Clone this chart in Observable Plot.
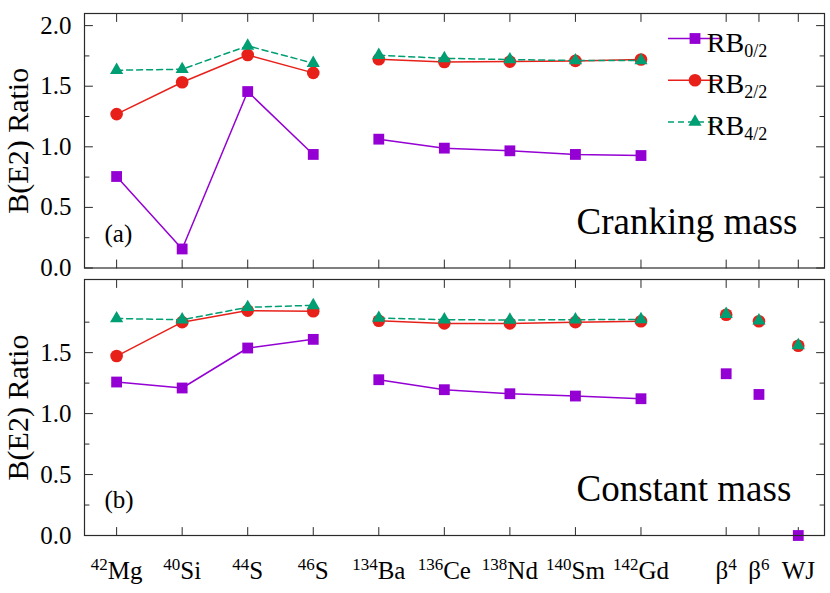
<!DOCTYPE html>
<html>
<head>
<meta charset="utf-8">
<script src="https://cdn.jsdelivr.net/npm/d3@7"></script>
<script src="https://cdn.jsdelivr.net/npm/@observablehq/plot@0.6"></script>
<style>
  html, body { margin: 0; padding: 0; background: #fff; }
  #wrap { position: relative; width: 830px; height: 593px; background: #fff; }
  #wrap svg { position: absolute; left: 0; overflow: visible; }
  #wrap svg, #wrap svg text, #wrap svg tspan { font-family: "Liberation Serif", "Times New Roman", Times, "DejaVu Serif", serif !important; }
</style>
</head>
<body>
<div id="wrap"></div>
<script>
// ---------- data ----------
const massNumber = ["42", "40", "44", "46", "134", "136", "138", "140", "142", "", "", ""];
const element    = ["Mg", "Si", "S", "S", "Ba", "Ce", "Nd", "Sm", "Gd", "β", "β", "WJ"];
const power      = ["", "", "", "", "", "", "", "", "", "4", "6", ""];
const xPosition  = [0, 1, 2, 3, 4, 5, 6, 7, 8, 9.3, 9.8, 10.4];
const group      = ["light", "light", "light", "light", "heavy", "heavy", "heavy", "heavy", "heavy", "ref", "ref", "ref"];

const seriesNames = ["RB", "RB", "RB"];
const seriesSubs  = ["0/2", "2/2", "4/2"];

// (a) Cranking mass
const rb02Cranking = [0.755, 0.157, 1.456, 0.937, 1.063, 0.989, 0.967, 0.937, 0.928];
const rb22Cranking = [1.270, 1.533, 1.758, 1.610, 1.723, 1.700, 1.703, 1.709, 1.720];
const rb42Cranking = [1.632, 1.640, 1.833, 1.690, 1.756, 1.730, 1.720, 1.712, 1.712];

// (b) Constant mass
const rb02Constant = [1.259, 1.210, 1.538, 1.609, 1.278, 1.196, 1.163, 1.144, 1.122, 1.327, 1.157, 0.000];
const rb22Constant = [1.472, 1.750, 1.845, 1.840, 1.762, 1.740, 1.740, 1.750, 1.757, 1.811, 1.757, 1.557];
const rb42Constant = [1.780, 1.770, 1.872, 1.888, 1.784, 1.770, 1.768, 1.770, 1.773, 1.815, 1.762, 1.560];

const majorTicksA = [0, 0.5, 1.0, 1.5, 2.0];
const majorTicksB = [0, 0.5, 1.0, 1.5];
const minorTicks  = [0.25, 0.75, 1.25, 1.75];

// ---------- styles ----------
const colors  = ["#9400d3", "#e8201a", "#009e73"];
const symbols = ["square", "circle", "triangle"];
const radii   = [6.1, 6.3, 4.9];
const dashes  = [null, null, "6,4"];
const FONT = '"Liberation Serif", "Times New Roman", Times, "DejaVu Serif", serif';
const frameColor = "#2a2a2a";

const tickShape = { draw(ctx, l) { ctx.moveTo(0, 0); ctx.lineTo(0, -l); } };

function rowsFor(values) {
  return values.map((v, i) => ({ x: xPosition[i], y: v, group: group[i] }));
}

function panel({ series, majors, height, marginTop, marginBottom, tag, note, noteDy, tagDy, xLabels }) {
  const marks = [];
  const tk = (data, opts) => Plot.vector(data, { length: 8, anchor: "start", shape: tickShape, stroke: frameColor, strokeWidth: 1, ...opts });
  const tkMinor = (data, opts) => Plot.vector(data, { length: 4.5, anchor: "start", shape: tickShape, stroke: frameColor, strokeWidth: 1, ...opts });
  marks.push(tk(majors, { y: d => d, frameAnchor: "left", rotate: 90 }));
  marks.push(tk(majors, { y: d => d, frameAnchor: "right", rotate: -90 }));
  marks.push(tkMinor(minorTicks, { y: d => d, frameAnchor: "left", rotate: 90 }));
  marks.push(tkMinor(minorTicks, { y: d => d, frameAnchor: "right", rotate: -90 }));
  marks.push(tk(xPosition, { x: d => d, frameAnchor: "top", rotate: 180 }));
  marks.push(tk(xPosition, { x: d => d, frameAnchor: "bottom", rotate: 0 }));
  marks.push(Plot.axisY({ ticks: majors, tickSize: 0, tickPadding: 13, tickFormat: d3.format(".1f"), fontSize: 25, label: null, fill: "#000" }));
  marks.push(Plot.text(["B(E2) Ratio"], { text: d => d, frameAnchor: "left", dx: -66, rotate: -90, fontSize: 30, lineAnchor: "middle", textAnchor: "middle", fill: "#000" }));
  series.forEach((vals, k) => {
    const rows = rowsFor(vals);
    marks.push(Plot.line(rows.filter(r => r.group !== "ref"), {
      x: "x", y: "y", z: "group", stroke: colors[k], strokeWidth: 1.5,
      strokeDasharray: dashes[k] ?? undefined
    }));
    marks.push(Plot.dot(rows, { x: "x", y: "y", symbol: () => symbols[k], r: radii[k], fill: colors[k], stroke: "none" }));
  });
  marks.push(Plot.frame({ stroke: frameColor, strokeWidth: 1.2 }));
  marks.push(Plot.text([tag], { text: d => d, frameAnchor: "bottom-left", dx: 20, dy: tagDy, textAnchor: "start", lineAnchor: "bottom", fontSize: 25, fill: "#000" }));
  marks.push(Plot.text([note], { text: d => d, frameAnchor: "bottom-left", dx: 492, dy: noteDy, textAnchor: "start", lineAnchor: "bottom", fontSize: 37, fill: "#000" }));
  if (xLabels) {
    marks.push(Plot.text(element, { x: (d, i) => xPosition[i], text: (d, i) => massNumber[i] + element[i] + power[i], frameAnchor: "bottom", dy: 43, lineAnchor: "bottom", textAnchor: "middle", fontSize: 25, fill: "#000", className: "xlab" }));
  }
  return Plot.plot({
    width: 830, height, marginTop, marginBottom, marginLeft: 84, marginRight: 6,
    x: { domain: [-0.49, 10.8], axis: null },
    y: { domain: [0, 2.1], axis: null },
    style: { fontFamily: FONT, fontSize: "25px", background: "transparent", color: "#000" },
    marks
  });
}

const wrap = document.getElementById("wrap");

const topPanel = panel({
  series: [rb02Cranking, rb22Cranking, rb42Cranking], majors: majorTicksA,
  height: 270, marginTop: 13, marginBottom: 2.5,
  tag: "(a)", note: "Cranking mass", noteDy: -34, tagDy: -26, xLabels: false
});
topPanel.style.top = "0px";
wrap.appendChild(topPanel);

const bottomPanel = panel({
  series: [rb02Constant, rb22Constant, rb42Constant], majors: majorTicksB,
  height: 323, marginTop: 9, marginBottom: 58,
  tag: "(b)", note: "Constant mass", noteDy: -35, tagDy: -28, xLabels: true
});
bottomPanel.style.top = "270px";
wrap.appendChild(bottomPanel);

d3.select(bottomPanel).selectAll("g.xlab text").each(function (d, j) {
  const t = d3.select(this);
  t.text(null);
  if (massNumber[j]) t.append("tspan").attr("font-size", 17).attr("dy", -9).text(massNumber[j]);
  t.append("tspan").attr("font-size", 25).attr("dy", massNumber[j] ? 9 : 0).text(element[j]);
  if (power[j]) t.append("tspan").attr("font-size", 17).attr("dy", -9).text(power[j]);
});

const lg = d3.select(topPanel).append("g");
const rowY = [38.5, 80.2, 121.9];
seriesSubs.forEach((sub, k) => {
  const y = rowY[k];
  lg.append("line").attr("x1", 668).attr("x2", 722).attr("y1", y).attr("y2", y)
    .attr("stroke", colors[k]).attr("stroke-width", 1.5)
    .attr("stroke-dasharray", dashes[k]);
  const sym = { square: d3.symbolSquare, circle: d3.symbolCircle, triangle: d3.symbolTriangle }[symbols[k]];
  lg.append("path").attr("transform", `translate(695,${y})`)
    .attr("d", d3.symbol(sym, Math.PI * radii[k] * radii[k])()).attr("fill", colors[k]);
  const t = lg.append("text").attr("x", 737).attr("y", y + 13.2).attr("font-size", 28).attr("fill", "#000");
  t.append("tspan").text(seriesNames[k]);
  t.append("tspan").attr("font-size", 18).attr("dy", 5).text(sub);
});
</script>
</body>
</html>
